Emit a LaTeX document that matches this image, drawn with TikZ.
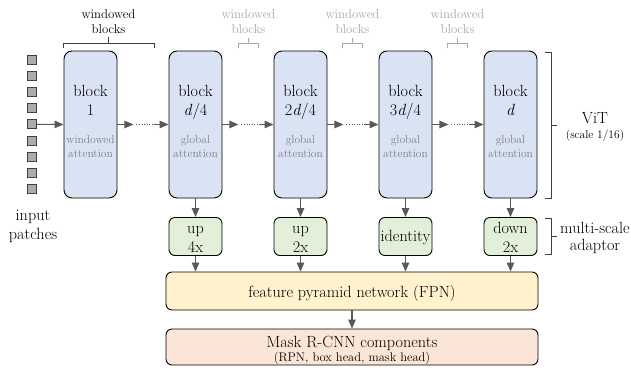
\documentclass[tikz,border=0pt]{standalone}
\usepackage{fontspec}
\usetikzlibrary{arrows.meta}
\definecolor{blkfill}{HTML}{DAE3F3}
\definecolor{adafill}{HTML}{E2F0D9}
\definecolor{fpnfill}{HTML}{FFF2CC}
\definecolor{maskfill}{HTML}{FBE5D6}
\definecolor{sqfill}{HTML}{AFABAB}
\definecolor{sqdraw}{HTML}{404040}
\definecolor{arrgray}{HTML}{595959}
\definecolor{lightgraytext}{HTML}{A6A6A6}
\definecolor{midgraytext}{HTML}{808080}
\tikzset{
  blk/.style={draw=black, line width=0.9pt, fill=blkfill, rounded corners=8pt,
    minimum width=53pt, minimum height=147pt, inner sep=0pt},
  ada/.style={draw=black, line width=0.9pt, fill=adafill, rounded corners=6pt,
    minimum width=53pt, minimum height=38pt, inner sep=0pt},
  wide/.style={draw=black, line width=0.9pt, rounded corners=6pt,
    minimum width=372pt, inner sep=0pt},
  sq/.style={draw=sqdraw, line width=0.7pt, fill=sqfill, minimum size=9pt, inner sep=0pt},
  arr/.style={draw=arrgray, line width=1.1pt, -{Triangle[length=9pt,width=7.5pt]}},
  dotline/.style={draw=arrgray, line width=0.6pt, dotted},
  bigtxt/.style={font=\fontsize{16.2}{19}\selectfont, anchor=base, inner sep=0pt},
  smalltxt/.style={font=\fontsize{11.5}{14}\selectfont, text=midgraytext, anchor=base, inner sep=0pt},
  toptxt/.style={font=\fontsize{12.8}{15}\selectfont, anchor=base, inner sep=0pt},
  brk/.style={draw=black!75, line width=0.8pt},
  gbrk/.style={draw=lightgraytext, line width=0.8pt},
}
\begin{document}
\begin{tikzpicture}[x=1pt,y=-1pt]
\useasboundingbox (0,0) rectangle (631,367);

% input patches
\foreach \k in {0,...,8} {
  \node[sq] (sq\k) at (32, 59.5+16.2*\k) {};
}
\node[bigtxt] (inp1) at (33,220) {input};
\node[bigtxt] (inp2) at (33,239) {patches};

% blocks
\node[blk] (b1) at (90.5,124.5) {};
\node[blk] (b2) at (195.5,124.5) {};
\node[blk] (b3) at (300.5,124.5) {};
\node[blk] (b4) at (405.5,124.5) {};
\node[blk] (b5) at (510.5,124.5) {};

\node[bigtxt] (t1a) at (90.5,96.5) {block};
\node[bigtxt] (t1b) at (90.5,115) {1};
\node[smalltxt] (s1a) at (90.5,143) {windowed};
\node[smalltxt] (s1b) at (90.5,157.5) {attention};

\node[bigtxt] (t2a) at (195.5,96.5) {block};
\node[bigtxt] (t2b) at (195.5,115) {\textit{d}/4};
\node[smalltxt] (s2a) at (195.5,143) {global};
\node[smalltxt] (s2b) at (195.5,157.5) {attention};

\node[bigtxt] (t3a) at (300.5,96.5) {block};
\node[bigtxt] (t3b) at (300.5,115) {2\textit{d}/4};
\node[smalltxt] (s3a) at (300.5,143) {global};
\node[smalltxt] (s3b) at (300.5,157.5) {attention};

\node[bigtxt] (t4a) at (405.5,96.5) {block};
\node[bigtxt] (t4b) at (405.5,115) {3\textit{d}/4};
\node[smalltxt] (s4a) at (405.5,143) {global};
\node[smalltxt] (s4b) at (405.5,157.5) {attention};

\node[bigtxt] (t5a) at (510.5,96.5) {block};
\node[bigtxt] (t5b) at (510.5,115) {\textit{d}};
\node[smalltxt] (s5a) at (510.5,143) {global};
\node[smalltxt] (s5b) at (510.5,157.5) {attention};

% input arrow
\draw[arr] (sq4.east) -- (b1.west);

% inter-block arrows
\foreach \a/\b in {b1/b2, b2/b3, b3/b4, b4/b5} {
  \draw[arr] (\a.east) -- ++(16,0) coordinate (p\a);
  \draw[dotline] ([xshift=3pt]p\a) -- ++(17,0) coordinate (q\a);
  \draw[arr] ([xshift=1pt]q\a) -- (\b.west);
}

% adaptors
\node[ada] (a2) at (195.5,236.5) {};
\node[ada] (a3) at (300.5,236.5) {};
\node[ada] (a4) at (405.5,236.5) {};
\node[ada] (a5) at (510.5,236.5) {};
\node[bigtxt] (u2a) at (195.5,233) {up};
\node[bigtxt] (u2b) at (195.5,252) {4x};
\node[bigtxt] (u3a) at (300.5,233) {up};
\node[bigtxt] (u3b) at (300.5,252) {2x};
\node[bigtxt] (u4) at (405.5,241) {identity};
\node[bigtxt] (u5a) at (510.5,233) {down};
\node[bigtxt] (u5b) at (510.5,252) {2x};

% FPN and Mask R-CNN
\node[wide, fill=fpnfill, minimum height=38pt] (fpn) at (352,291) {};
\node[bigtxt] (fpnt) at (352,297) {feature pyramid network (FPN)};
\node[wide, fill=maskfill, minimum height=36pt] (mask) at (352,347) {};
\node[bigtxt] (maskt) at (352,347) {Mask R-CNN components};
\node[bigtxt, font=\fontsize{12.5}{14}\selectfont] (masks) at (352,361) {(RPN, box head, mask head)};

% vertical arrows
\foreach \i in {2,3,4,5} {
  \draw[arr] (b\i.south) -- (a\i.north);
  \draw[arr] (a\i.south) -- (a\i.south |- fpn.north);
}
\draw[arr] (fpn.south) -- (mask.north);

% top braces
\node[toptxt] (w1a) at (108.5,18) {windowed};
\node[toptxt] (w1b) at (108.5,33) {blocks};
\draw[brk] (63,48) -- (63,43) -- (154,43) -- (154,48);
\draw[brk] (108.5,43) -- (108.5,37);
\foreach \c/\n in {248.5/2, 352.5/3, 457.5/4} {
  \node[toptxt, text=lightgraytext] (w\n a) at (\c,18) {windowed};
  \node[toptxt, text=lightgraytext] (w\n b) at (\c,33) {blocks};
  \draw[gbrk] (\c-10,48) -- (\c-10,43) -- (\c+10,43) -- (\c+10,48);
  \draw[gbrk] (\c,43) -- (\c,38);
}

% right braces
\draw[brk] (545,52) -- (551,52) -- (551,198) -- (545,198);
\draw[brk] (551,125) -- (557,125);
\node[bigtxt] (vit) at (595,123) {ViT};
\node[toptxt, font=\fontsize{11.5}{13}\selectfont] (vits) at (595,138.5) {(scale 1/16)};

\draw[brk] (545,218) -- (551,218) -- (551,254) -- (545,254);
\draw[brk] (551,236) -- (557,236);
\node[bigtxt] (ms1) at (595,233) {multi-scale};
\node[bigtxt] (ms2) at (595,250) {adaptor};
\end{tikzpicture}
\end{document}
